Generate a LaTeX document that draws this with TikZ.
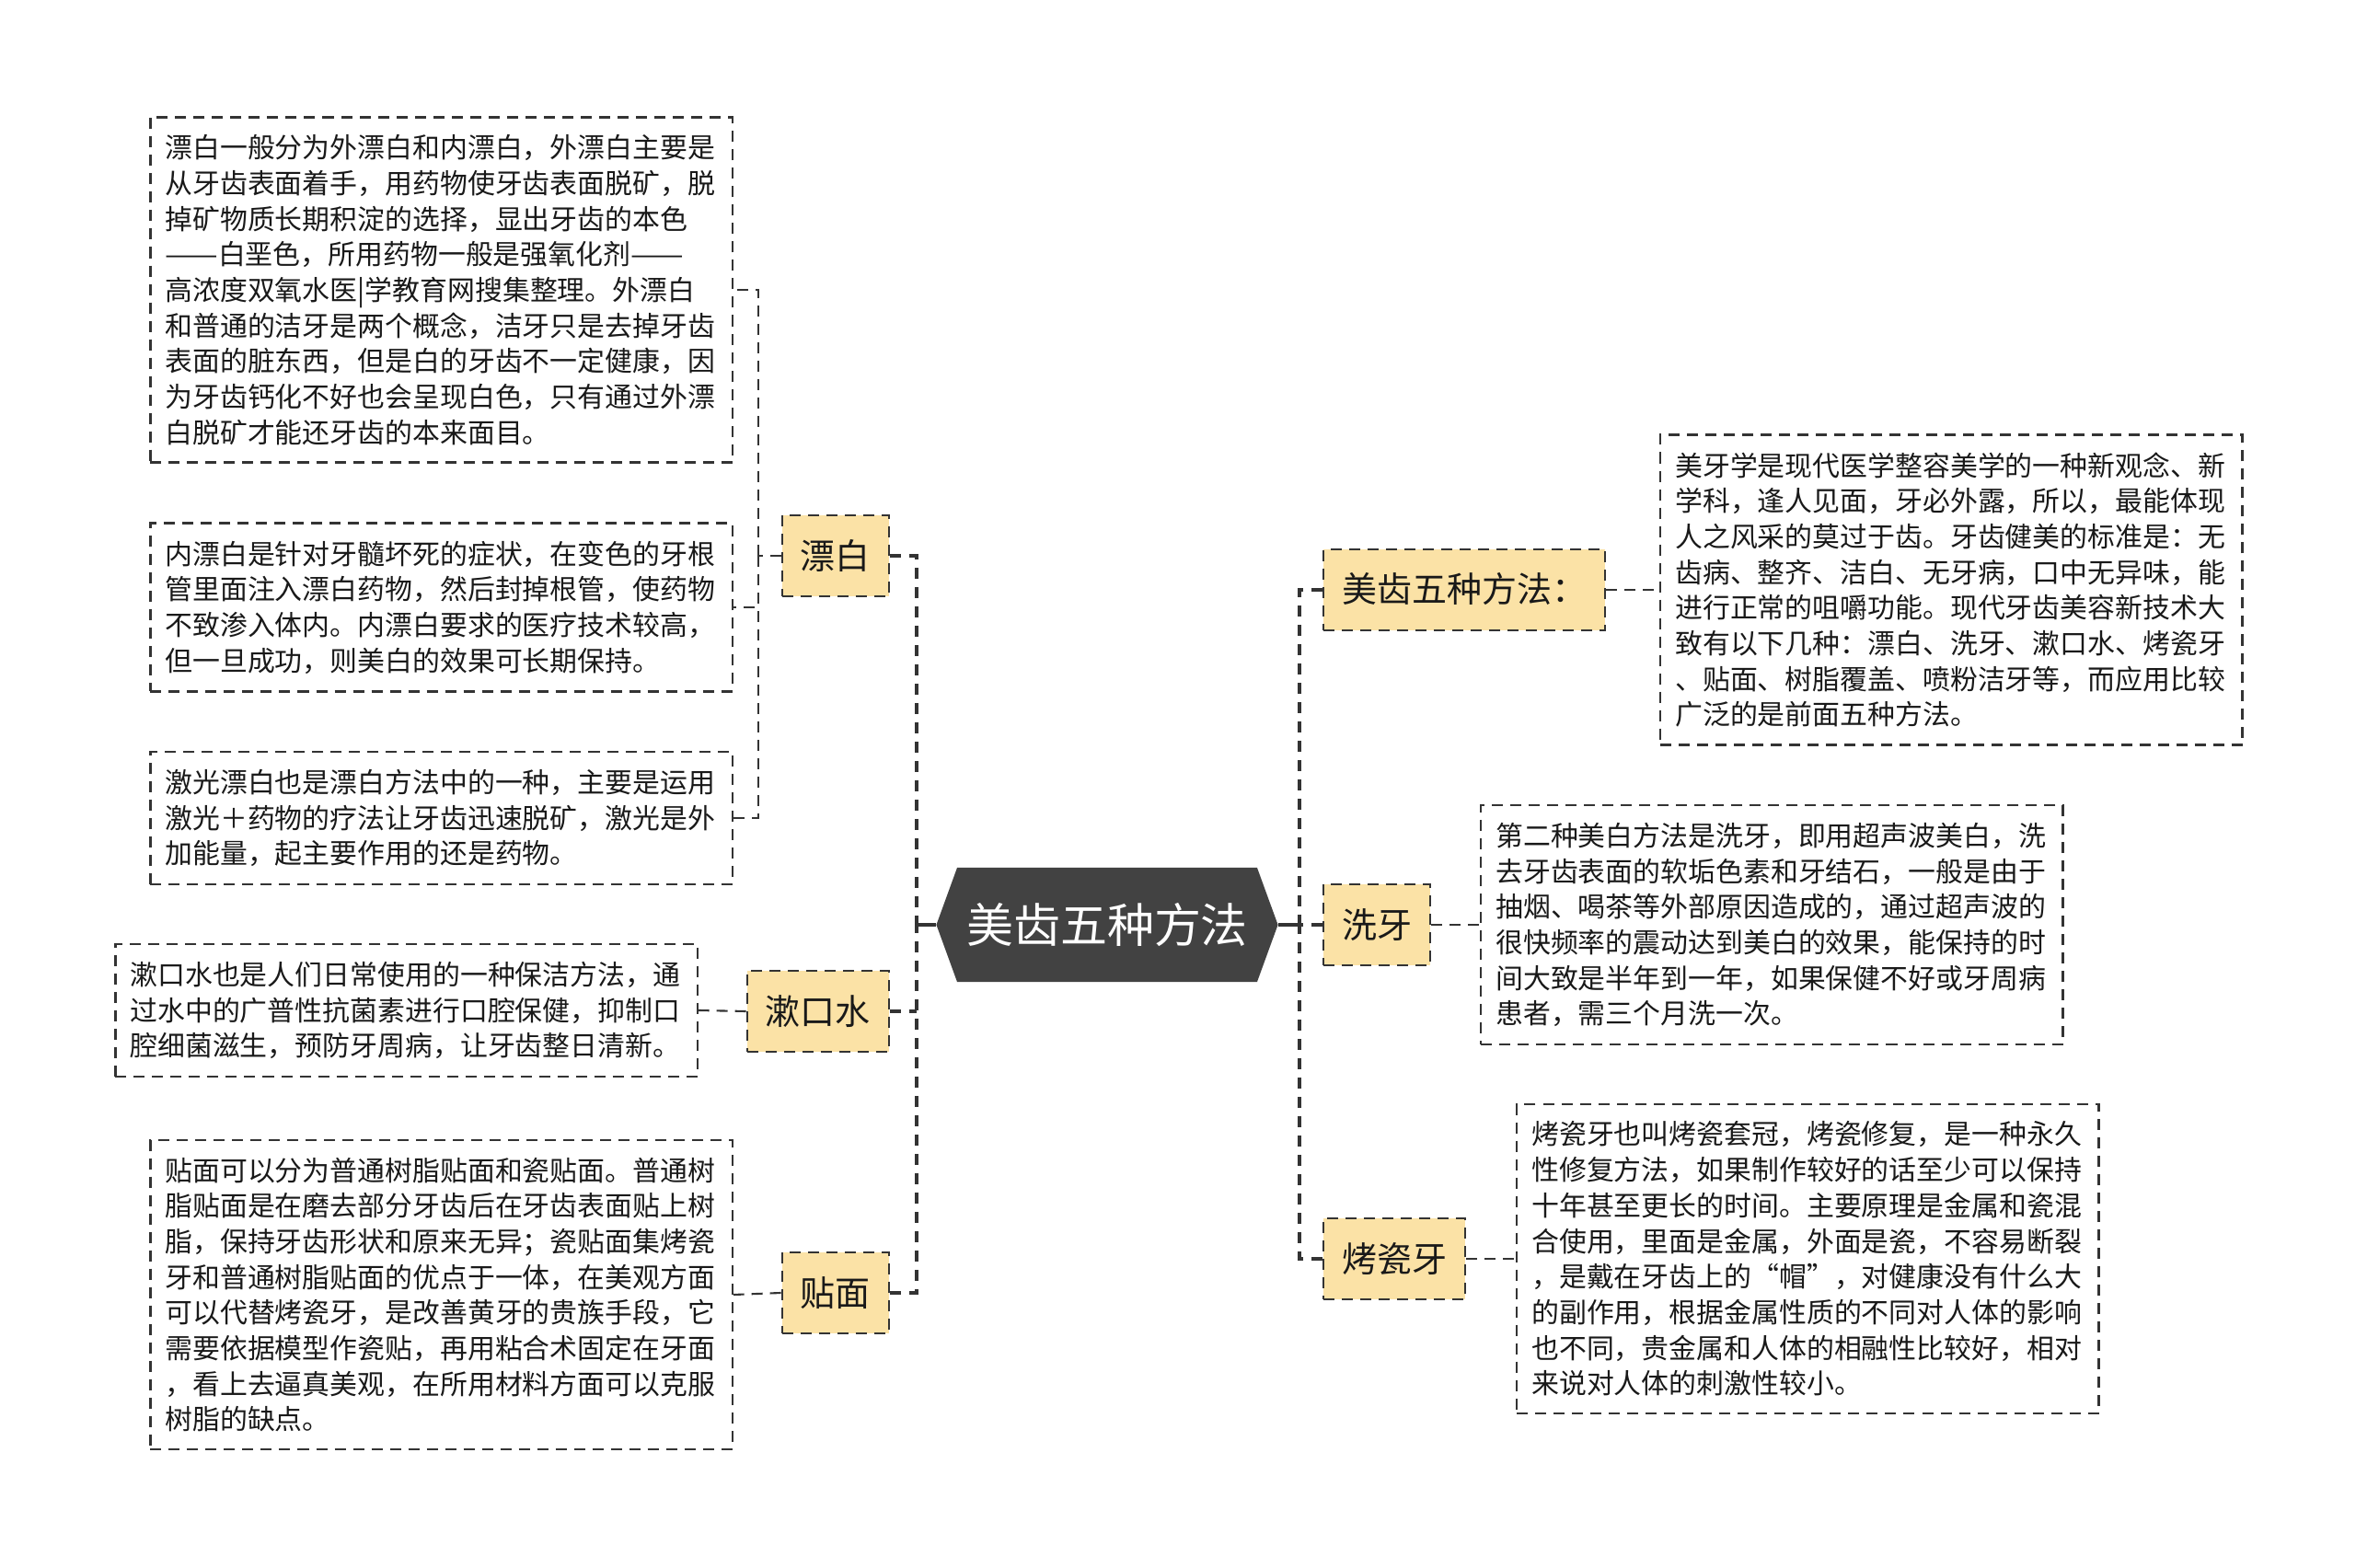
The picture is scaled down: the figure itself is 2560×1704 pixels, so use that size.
\documentclass[tikz,border=0pt]{standalone}
\usepackage{fontspec}
\usepackage{tikz}
\usetikzlibrary{positioning,shapes.symbols}
\newfontfamily\cjk{Noto Sans CJK SC}
\newcommand\longdash{\scalebox{1.15}[1]{——}}
\definecolor{rootgray}{HTML}{424242}
\definecolor{branchfill}{HTML}{FBE2A6}
\definecolor{linegray}{HTML}{333333}

\begin{document}
\begin{tikzpicture}[x=0.01cm,y=-0.01cm,font=\cjk,
  dashline/.style={draw=linegray,line width=0.7pt,dash pattern=on 0.12cm off 0.08cm},
  leaf/.style={dashline,align=left,text width=6cm,inner xsep=0.16cm,inner ysep=0.19cm,
    font=\cjk\fontsize{8.5pt}{11pt}\selectfont,text=black!90},
  branch/.style={dashline,fill=branchfill,inner xsep=0.2cm,inner ysep=0.25cm,
    text height=0.33cm,text depth=0.05cm,font=\cjk\fontsize{10.8pt}{13pt}\selectfont,text=black!90},
  link/.style={dashline,line width=0.6pt},
  trunk/.style={draw=linegray,line width=1.1pt,dash pattern=on 0.12cm off 0.09cm},
  stem/.style={draw=linegray,line width=0.9pt}]
\useasboundingbox (0,0) rectangle (2560,1704);

% centre
\node[signal,signal to=east and west,signal pointer angle=140,fill=rootgray,text=white,
  minimum width=3.6cm,minimum height=1.24cm,inner xsep=0.1cm,
  font=\cjk\fontsize{14.5pt}{17pt}\selectfont] (root) at (1203,1005) {美齿五种方法};

% branches
\node[branch,anchor=east] (piaobai) at (967,604) {漂白};
\node[branch,anchor=east] (shukou) at (967,1099) {漱口水};
\node[branch,anchor=east] (tiemian) at (967,1405) {贴面};
\node[branch,anchor=west] (meichi) at (1437,641) {美齿五种方法：};
\node[branch,anchor=west] (xiya) at (1437,1005) {洗牙};
\node[branch,anchor=west] (kaoci) at (1437,1368) {烤瓷牙};

% leaves
\node[leaf,anchor=east] (pb1) at (797,315) {漂白一般分为外漂白和内漂白，外漂白主要是\\从牙齿表面着手，用药物使牙齿表面脱矿，脱\\掉矿物质长期积淀的选择，显出牙齿的本色\\\longdash 白垩色，所用药物一般是强氧化剂\longdash\\高浓度双氧水医|学教育网搜集整理。外漂白\\和普通的洁牙是两个概念，洁牙只是去掉牙齿\\表面的脏东西，但是白的牙齿不一定健康，因\\为牙齿钙化不好也会呈现白色，只有通过外漂\\白脱矿才能还牙齿的本来面目。};
\node[leaf,anchor=east] (pb2) at (797,660) {内漂白是针对牙髓坏死的症状，在变色的牙根\\管里面注入漂白药物，然后封掉根管，使药物\\不致渗入体内。内漂白要求的医疗技术较高，\\但一旦成功，则美白的效果可长期保持。};
\node[leaf,anchor=east] (pb3) at (797,889) {激光漂白也是漂白方法中的一种，主要是运用\\激光＋药物的疗法让牙齿迅速脱矿，激光是外\\加能量，起主要作用的还是药物。};
\node[leaf,anchor=east] (sk1) at (759,1098) {漱口水也是人们日常使用的一种保洁方法，通\\过水中的广普性抗菌素进行口腔保健，抑制口\\腔细菌滋生，预防牙周病，让牙齿整日清新。};
\node[leaf,anchor=east] (tm1) at (797,1407) {贴面可以分为普通树脂贴面和瓷贴面。普通树\\脂贴面是在磨去部分牙齿后在牙齿表面贴上树\\脂，保持牙齿形状和原来无异；瓷贴面集烤瓷\\牙和普通树脂贴面的优点于一体，在美观方面\\可以代替烤瓷牙，是改善黄牙的贵族手段，它\\需要依据模型作瓷贴，再用粘合术固定在牙面\\，看上去逼真美观，在所用材料方面可以克服\\树脂的缺点。};
\node[leaf,anchor=west] (mc1) at (1803,641) {美牙学是现代医学整容美学的一种新观念、新\\学科，逢人见面，牙必外露，所以，最能体现\\人之风采的莫过于齿。牙齿健美的标准是：无\\齿病、整齐、洁白、无牙病，口中无异味，能\\进行正常的咀嚼功能。现代牙齿美容新技术大\\致有以下几种：漂白、洗牙、漱口水、烤瓷牙\\、贴面、树脂覆盖、喷粉洁牙等，而应用比较\\广泛的是前面五种方法。};
\node[leaf,anchor=west] (xy1) at (1608,1005) {第二种美白方法是洗牙，即用超声波美白，洗\\去牙齿表面的软垢色素和牙结石，一般是由于\\抽烟、喝茶等外部原因造成的，通过超声波的\\很快频率的震动达到美白的效果，能保持的时\\间大致是半年到一年，如果保健不好或牙周病\\患者，需三个月洗一次。};
\node[leaf,anchor=west] (kc1) at (1647,1368) {烤瓷牙也叫烤瓷套冠，烤瓷修复，是一种永久\\性修复方法，如果制作较好的话至少可以保持\\十年甚至更长的时间。主要原理是金属和瓷混\\合使用，里面是金属，外面是瓷，不容易断裂\\，是戴在牙齿上的“帽”，对健康没有什么大\\的副作用，根据金属性质的不同对人体的影响\\也不同，贵金属和人体的相融性比较好，相对\\来说对人体的刺激性较小。};

% junctions
\coordinate (lj) at (996,1005);
\coordinate (rj) at (1412,1005);
\coordinate (pj) at (824,604);

% connectors
\draw[stem] (root.west) -- (lj);
\draw[stem] (root.east) -- (rj);
\draw[trunk] (piaobai.east) -| (lj);
\draw[trunk] (tiemian.east) -| (lj);
\draw[trunk] (shukou.east) -- (shukou.east -| lj);
\draw[trunk] (meichi.west) -| (rj);
\draw[trunk] (kaoci.west) -| (rj);
\draw[trunk] (xiya.west) -- (rj);
\draw[link] (piaobai.west) -- (pj);
\draw[link] (pj) |- (pb1.east);
\draw[link] (pj) |- (pb2.east);
\draw[link] (pj) |- (pb3.east);
\draw[link] (shukou.west) -- (sk1.east);
\draw[link] (tiemian.west) -- (tm1.east);
\draw[link] (meichi.east) -- (mc1.west);
\draw[link] (xiya.east) -- (xy1.west);
\draw[link] (kaoci.east) -- (kc1.west);
\end{tikzpicture}
\end{document}
